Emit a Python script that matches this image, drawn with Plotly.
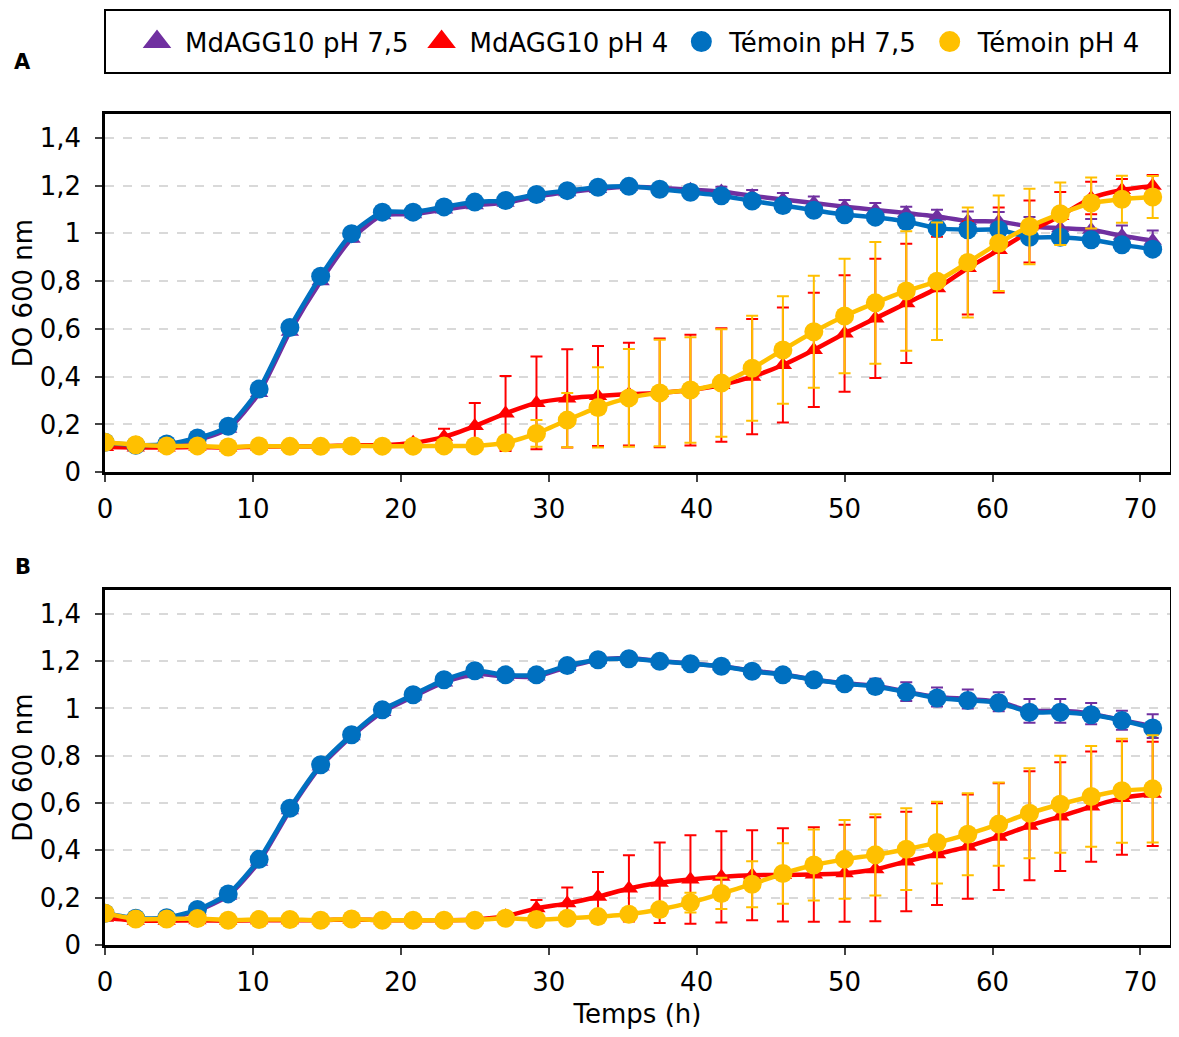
import plotly.graph_objects as go

# temps de mesure (h)
temps = [0, 2.08, 4.17, 6.25, 8.33, 10.42, 12.5, 14.58, 16.67, 18.75, 20.83, 22.92, 25, 27.08,
         29.17, 31.25, 33.33, 35.42, 37.5, 39.58, 41.67, 43.75, 45.83, 47.92, 50, 52.08, 54.17,
         56.25, 58.33, 60.42, 62.5, 64.58, 66.67, 68.75, 70.83]

# --- panneau A ---
mdagg_75_a = [0.118, 0.112, 0.113, 0.135, 0.182, 0.332, 0.588, 0.80, 0.978, 1.076, 1.08, 1.1,
              1.118, 1.128, 1.155, 1.172, 1.186, 1.195, 1.19, 1.183, 1.175, 1.157, 1.142, 1.127,
              1.112, 1.098, 1.085, 1.071, 1.052, 1.05, 1.029, 1.022, 1.015, 0.99, 0.969]
mdagg_75_a_err = [0.005, 0.005, 0.005, 0.005, 0.008, 0.01, 0.01, 0.012, 0.012, 0.012, 0.012,
                  0.012, 0.012, 0.012, 0.012, 0.012, 0.012, 0.012, 0.015, 0.018, 0.02, 0.025,
                  0.027, 0.028, 0.028, 0.029, 0.027, 0.028, 0.04, 0.04, 0.04, 0.042, 0.045,
                  0.043, 0.043]
mdagg_4_a = [0.105, 0.103, 0.103, 0.105, 0.103, 0.107, 0.108, 0.108, 0.112, 0.113, 0.123, 0.148,
             0.193, 0.246, 0.29, 0.309, 0.319, 0.327, 0.332, 0.344, 0.365, 0.40, 0.449, 0.512,
             0.581, 0.644, 0.707, 0.77, 0.855, 0.93, 1.008, 1.073, 1.148, 1.182, 1.199]
mdagg_4_a_err = [0.005, 0.005, 0.005, 0.005, 0.005, 0.005, 0.005, 0.005, 0.008, 0.01, 0.012,
                 0.034, 0.097, 0.157, 0.194, 0.206, 0.209, 0.215, 0.228, 0.232, 0.238, 0.241,
                 0.241, 0.239, 0.244, 0.25, 0.25, 0.216, 0.195, 0.178, 0.13, 0.1, 0.068, 0.046,
                 0.046]
temoin_75_a = [0.125, 0.113, 0.118, 0.143, 0.192, 0.348, 0.606, 0.821, 0.999, 1.089, 1.089, 1.111,
               1.131, 1.138, 1.163, 1.179, 1.193, 1.197, 1.185, 1.172, 1.158, 1.136, 1.117, 1.097,
               1.078, 1.068, 1.05, 1.022, 1.015, 1.015, 0.984, 0.984, 0.973, 0.952, 0.934]
temoin_4_a = [0.125, 0.115, 0.11, 0.11, 0.105, 0.11, 0.108, 0.108, 0.11, 0.109, 0.109, 0.11,
              0.11, 0.123, 0.162, 0.218, 0.271, 0.311, 0.332, 0.344, 0.373, 0.435, 0.512, 0.588,
              0.654, 0.709, 0.759, 0.80, 0.878, 0.959, 1.029, 1.082, 1.127, 1.143, 1.152]
temoin_4_a_err = [0.005, 0.005, 0.005, 0.005, 0.005, 0.005, 0.005, 0.005, 0.005, 0.005, 0.005,
                  0.005, 0.005, 0.01, 0.056, 0.114, 0.168, 0.205, 0.223, 0.221, 0.225, 0.22,
                  0.225, 0.235, 0.24, 0.255, 0.25, 0.246, 0.23, 0.2, 0.158, 0.131, 0.107, 0.098,
                  0.088]

# --- panneau B ---
mdagg_75_b = [0.128, 0.11, 0.11, 0.145, 0.208, 0.352, 0.57, 0.755, 0.882, 0.985, 1.05, 1.11,
              1.145, 1.135, 1.135, 1.175, 1.206, 1.213, 1.2, 1.19, 1.178, 1.16, 1.145, 1.122,
              1.106, 1.096, 1.071, 1.048, 1.04, 1.028, 0.99, 0.99, 0.978, 0.95, 0.925]
mdagg_75_b_err = [0.005, 0.005, 0.005, 0.005, 0.008, 0.01, 0.01, 0.01, 0.01, 0.01, 0.01, 0.01,
                  0.01, 0.01, 0.01, 0.01, 0.01, 0.012, 0.012, 0.012, 0.012, 0.012, 0.015, 0.02,
                  0.02, 0.03, 0.04, 0.04, 0.04, 0.04, 0.05, 0.05, 0.045, 0.04, 0.05]
mdagg_4_b = [0.115, 0.103, 0.103, 0.105, 0.103, 0.105, 0.105, 0.105, 0.108, 0.105, 0.105, 0.105,
             0.108, 0.122, 0.155, 0.176, 0.204, 0.239, 0.263, 0.277, 0.288, 0.295, 0.296, 0.298,
             0.303, 0.32, 0.353, 0.384, 0.416, 0.458, 0.504, 0.543, 0.585, 0.621, 0.639]
mdagg_4_b_err = [0.005, 0.005, 0.005, 0.005, 0.005, 0.005, 0.005, 0.005, 0.005, 0.005, 0.005,
                 0.005, 0.008, 0.016, 0.035, 0.067, 0.105, 0.14, 0.17, 0.187, 0.193, 0.19, 0.197,
                 0.2, 0.205, 0.22, 0.21, 0.215, 0.22, 0.226, 0.23, 0.23, 0.233, 0.24, 0.22]
temoin_75_b = [0.134, 0.113, 0.115, 0.15, 0.216, 0.362, 0.578, 0.762, 0.889, 0.994, 1.058, 1.121,
               1.159, 1.142, 1.142, 1.181, 1.206, 1.21, 1.199, 1.189, 1.178, 1.157, 1.142, 1.121,
               1.104, 1.093, 1.069, 1.044, 1.034, 1.024, 0.984, 0.984, 0.973, 0.949, 0.917]
temoin_4_b = [0.134, 0.11, 0.11, 0.112, 0.105, 0.108, 0.108, 0.105, 0.11, 0.105, 0.105, 0.105,
              0.105, 0.113, 0.108, 0.113, 0.12, 0.13, 0.15, 0.179, 0.218, 0.257, 0.302, 0.338,
              0.362, 0.381, 0.405, 0.433, 0.468, 0.511, 0.557, 0.595, 0.628, 0.652, 0.66]
temoin_4_b_err = [0.005, 0.005, 0.005, 0.005, 0.005, 0.005, 0.005, 0.005, 0.005, 0.005, 0.005,
                  0.005, 0.005, 0.005, 0.005, 0.005, 0.008, 0.01, 0.02, 0.042, 0.066, 0.097,
                  0.128, 0.15, 0.166, 0.172, 0.173, 0.173, 0.173, 0.176, 0.19, 0.205, 0.213,
                  0.22, 0.227]

noms = ["MdAGG10 pH 7,5", "MdAGG10 pH 4", "Témoin pH 7,5", "Témoin pH 4"]
couleurs = ["#7030A0", "#FF0000", "#0070C0", "#FFC000"]
symboles = ["triangle-up", "triangle-up", "circle", "circle"]
tailles = [16, 16, 19, 19]

panneaux = [
    ("x", "y", [mdagg_75_a, mdagg_4_a, temoin_75_a, temoin_4_a],
     [mdagg_75_a_err, mdagg_4_a_err, None, temoin_4_a_err]),
    ("x2", "y2", [mdagg_75_b, mdagg_4_b, temoin_75_b, temoin_4_b],
     [mdagg_75_b_err, mdagg_4_b_err, None, temoin_4_b_err]),
]

fig = go.Figure()
for xa, ya, series, erreurs in panneaux:
    for i in range(4):
        err = None
        if erreurs[i] is not None:
            err = dict(type="data", array=erreurs[i], color=couleurs[i], thickness=2, width=6)
        fig.add_trace(go.Scatter(
            x=temps, y=series[i], xaxis=xa, yaxis=ya, name=noms[i],
            mode="lines+markers", showlegend=False,
            line=dict(color=couleurs[i], width=4.5, shape="spline", smoothing=0.6),
            marker=dict(symbol=symboles[i], size=tailles[i], color=couleurs[i]),
            error_y=err,
        ))

# entrées de légende (marqueurs seuls, agrandis par le contour)
for i in range(4):
    fig.add_trace(go.Scatter(x=[None], y=[None], mode="markers", name=noms[i],
                             marker=dict(symbol=symboles[i], size=30, color=couleurs[i],
                                         line=dict(color=couleurs[i], width=6))))

police = dict(family="DejaVu Sans", size=26, color="black")
axe_x = dict(range=[0, 72], tickmode="linear", tick0=0, dtick=10, ticks="outside", ticklen=7,
             tickwidth=2, showline=True, linewidth=2.5, linecolor="black", mirror=True,
             showgrid=False, zeroline=False, tickfont=police, ticklabelstandoff=5,
             automargin=False)
axe_y = dict(range=[0, 1.5], tickmode="array", tickvals=[0, 0.2, 0.4, 0.6, 0.8, 1, 1.2, 1.4],
             ticks="outside", ticklen=7, tickwidth=2, showline=True, linewidth=2.5,
             linecolor="black", mirror=True, showgrid=True, gridcolor="#D9D9D9", gridwidth=2,
             griddash="dash", zeroline=False, tickfont=police, ticklabelstandoff=9,
             automargin=False, title=dict(text="DO 600 nm", font=police, standoff=2))

fig.update_layout(
    width=1163, height=1021,
    margin=dict(l=97, r=1, t=106, b=84),
    paper_bgcolor="white", plot_bgcolor="white",
    separators=", ",
    font=police,
    xaxis=dict(axe_x, domain=[0, 1], anchor="y"),
    yaxis=dict(axe_y, domain=[0.569, 1], anchor="x"),
    xaxis2=dict(axe_x, domain=[0, 1], anchor="y2",
                title=dict(text="Temps (h)", font=police, standoff=21)),
    yaxis2=dict(axe_y, domain=[0, 0.427], anchor="x2"),
    legend=dict(orientation="h", x=0.5, xanchor="center", y=1.087, yanchor="middle",
                font=police, bgcolor="rgba(0,0,0,0)", itemwidth=46, tracegroupgap=0),
    shapes=[dict(type="rect", xref="paper", yref="paper", x0=0, x1=1, y0=1.0493, y1=1.1252,
                 line=dict(color="black", width=2))],
    annotations=[
        dict(text="<b>A</b>", xref="paper", yref="paper", x=-0.0774, y=1.0626, showarrow=False,
             xanchor="center", yanchor="middle",
             font=dict(family="DejaVu Sans", size=21, color="black")),
        dict(text="<b>B</b>", xref="paper", yref="paper", x=-0.0774, y=0.4549, showarrow=False,
             xanchor="center", yanchor="middle",
             font=dict(family="DejaVu Sans", size=21, color="black")),
    ],
)

fig.write_html("out.html")
